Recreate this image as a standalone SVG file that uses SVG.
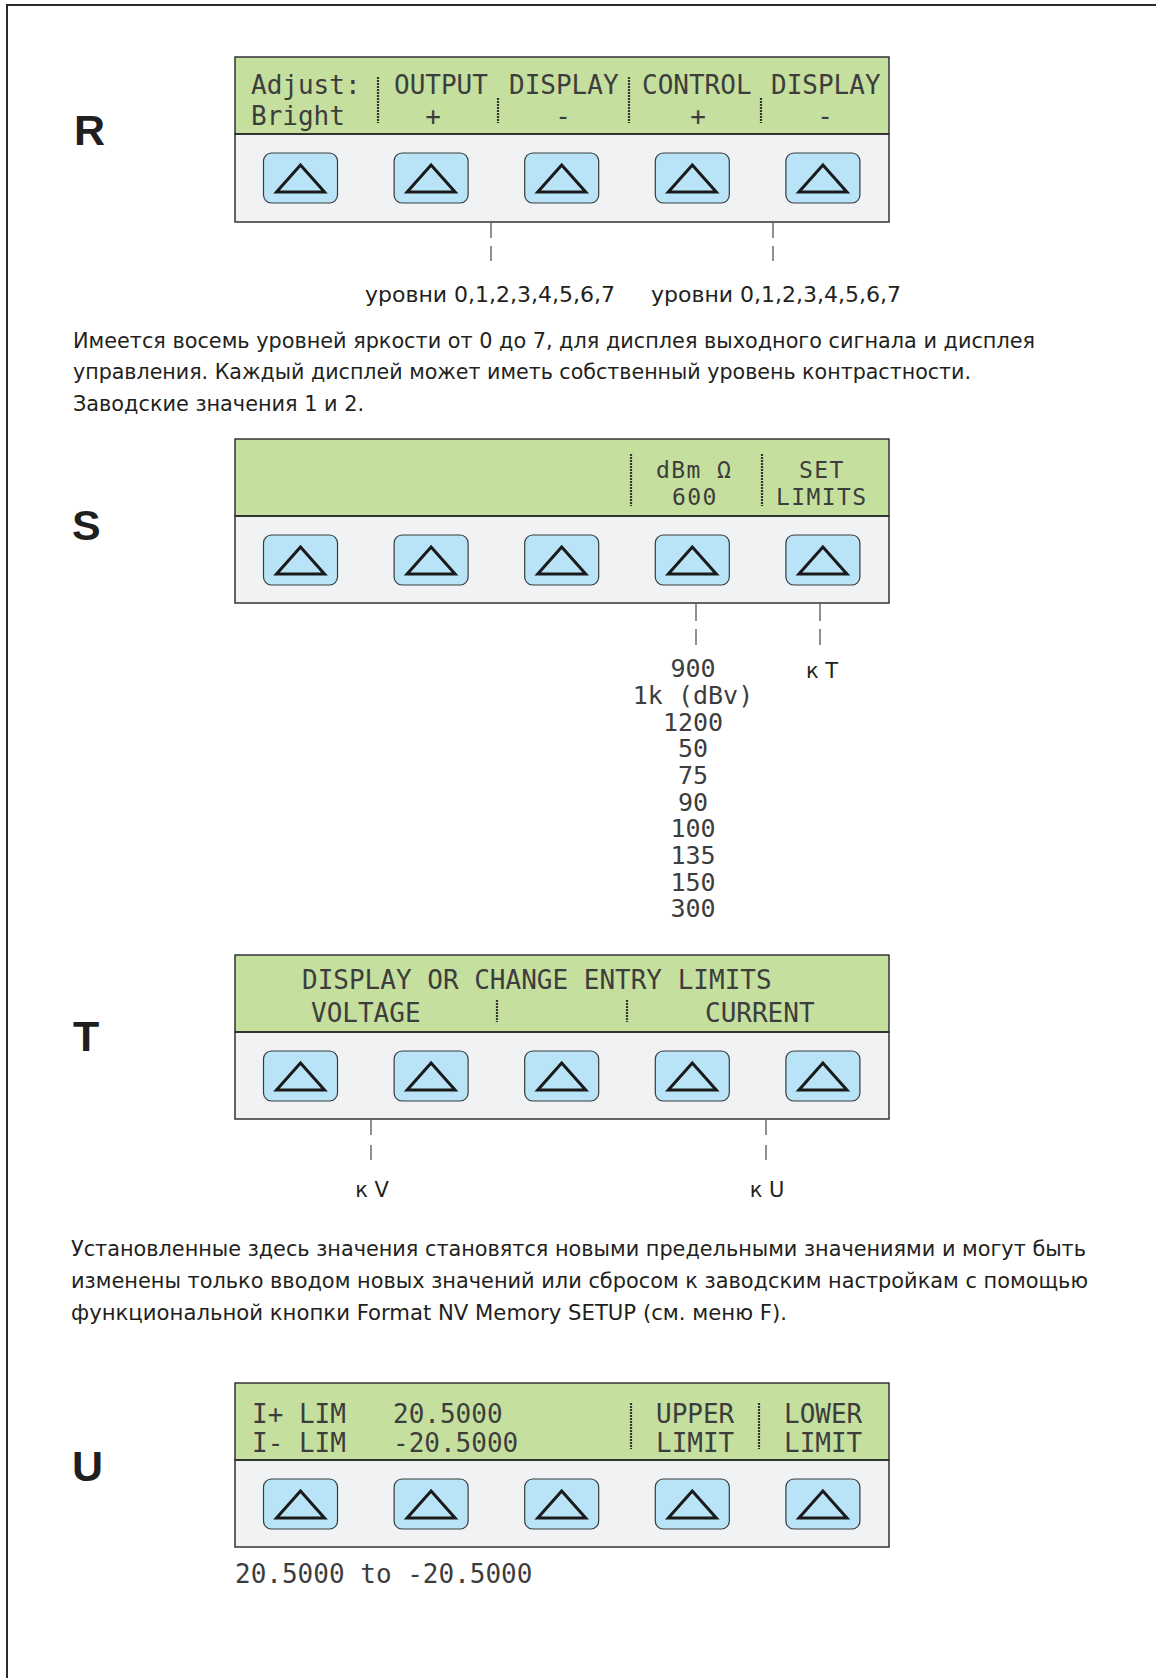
<svg xmlns="http://www.w3.org/2000/svg" width="1156" height="1678" viewBox="0 0 1156 1678">
<defs>
<style>
.frame{fill:none;stroke:#2b2b2b;stroke-width:2}
.lcd{fill:#c5df9e;stroke:#333;stroke-width:1.5}
.base{fill:#f1f2f3;stroke:#333;stroke-width:1.5}
.sep{stroke:#333;stroke-width:2}
.btn{fill:#b9e4f8;stroke:#3a3a3a;stroke-width:1.2}
.tri{fill:none;stroke:#1a1a1a;stroke-width:3;stroke-linejoin:miter}
.mono{font-family:"DejaVu Sans Mono","Liberation Mono",monospace;font-size:26px;fill:#3d3d3d}
.mono25{font-family:"DejaVu Sans Mono","Liberation Mono",monospace;font-size:25px;fill:#3d3d3d}
.monoS{font-family:"DejaVu Sans Mono","Liberation Mono",monospace;font-size:23px;letter-spacing:1.4px;fill:#3d3d3d}
.div{stroke:#333;stroke-width:2.2;stroke-dasharray:2 1}
.big{font-family:"Liberation Sans",Arial,sans-serif;font-weight:bold;font-size:43px;fill:#1f1f1f}
.para{font-family:"DejaVu Sans Condensed","DejaVu Sans",sans-serif;font-size:22px;fill:#231f20}
.lbl{font-family:"DejaVu Sans",sans-serif;font-size:22px;fill:#231f20}
.lbl2{font-family:"DejaVu Sans",sans-serif;font-size:21px;fill:#231f20}
.con{stroke:#555;stroke-width:1.3;fill:none}
</style>
<g id="keys">
<rect class="btn" x="0" y="0" width="74" height="50" rx="8"/>
<path class="tri" d="M37,12 L61,39 L13,39 Z"/>
</g>
<g id="keyrow">
<use href="#keys" x="0"/>
<use href="#keys" x="130.6"/>
<use href="#keys" x="261.2"/>
<use href="#keys" x="391.8"/>
<use href="#keys" x="522.4"/>
</g>
</defs>
<rect width="1156" height="1678" fill="#ffffff"/>
<path class="frame" d="M7,1678 L7,5 L1156,5"/>

<g id="label-R"><text class="big" x="74" y="145">R</text></g>
<g id="label-S"><text class="big" x="72" y="540">S</text></g>
<g id="label-T"><text class="big" x="73" y="1051">T</text></g>
<g id="label-U"><text class="big" x="72" y="1481">U</text></g>

<g id="panel-R">
<rect class="lcd" x="235" y="57" width="654" height="77"/>
<rect class="base" x="235" y="134" width="654" height="88"/>
<line class="sep" x1="235" y1="134" x2="889" y2="134"/>
<text class="mono" x="251" y="94">Adjust:</text>
<text class="mono" x="251" y="125">Bright</text>
<text class="mono" x="394" y="94">OUTPUT</text>
<text class="mono" x="509" y="94">DISPLAY</text>
<text class="mono" x="642" y="94">CONTROL</text>
<text class="mono" x="771" y="94">DISPLAY</text>
<text class="mono" x="433" y="125" text-anchor="middle">+</text>
<text class="mono" x="563" y="125" text-anchor="middle">-</text>
<text class="mono" x="698" y="125" text-anchor="middle">+</text>
<text class="mono" x="825" y="125" text-anchor="middle">-</text>
<line class="div" x1="378" y1="77" x2="378" y2="123"/>
<line class="div" x1="629" y1="77" x2="629" y2="123"/>
<line class="div" x1="498" y1="98" x2="498" y2="123"/>
<line class="div" x1="761" y1="98" x2="761" y2="123"/>
<use href="#keyrow" x="263.5" y="153"/>
</g>

<g id="panel-S">
<rect class="lcd" x="235" y="439" width="654" height="77"/>
<rect class="base" x="235" y="516" width="654" height="87"/>
<line class="sep" x1="235" y1="516" x2="889" y2="516"/>
<text class="monoS" x="656" y="478">dBm Ω</text>
<text class="monoS" x="672" y="505">600</text>
<text class="monoS" x="799" y="478">SET</text>
<text class="monoS" x="776" y="505">LIMITS</text>
<line class="div" x1="631" y1="454" x2="631" y2="506"/>
<line class="div" x1="762" y1="454" x2="762" y2="506"/>
<use href="#keyrow" x="263.5" y="535"/>
</g>

<g id="panel-T">
<rect class="lcd" x="235" y="955" width="654" height="77"/>
<rect class="base" x="235" y="1032" width="654" height="87"/>
<line class="sep" x1="235" y1="1032" x2="889" y2="1032"/>
<text class="mono" x="302" y="989">DISPLAY OR CHANGE ENTRY LIMITS</text>
<text class="mono" x="311" y="1022">VOLTAGE</text>
<text class="mono" x="705" y="1022">CURRENT</text>
<line class="div" x1="497" y1="1000" x2="497" y2="1022"/>
<line class="div" x1="627" y1="1000" x2="627" y2="1022"/>
<use href="#keyrow" x="263.5" y="1051"/>
</g>

<g id="panel-U">
<rect class="lcd" x="235" y="1383" width="654" height="77"/>
<rect class="base" x="235" y="1460" width="654" height="87"/>
<line class="sep" x1="235" y1="1460" x2="889" y2="1460"/>
<text class="mono" x="252" y="1423">I+ LIM</text>
<text class="mono" x="252" y="1452">I- LIM</text>
<text class="mono" x="393" y="1423">20.5000</text>
<text class="mono" x="393" y="1452">-20.5000</text>
<text class="mono" x="656" y="1423">UPPER</text>
<text class="mono" x="656" y="1452">LIMIT</text>
<text class="mono" x="784" y="1423">LOWER</text>
<text class="mono" x="784" y="1452">LIMIT</text>
<line class="div" x1="631" y1="1403" x2="631" y2="1449"/>
<line class="div" x1="759" y1="1403" x2="759" y2="1449"/>
<use href="#keyrow" x="263.5" y="1479"/>
</g>

<g id="connectors">
<line class="con" x1="491" y1="223" x2="491" y2="261" stroke-dasharray="15 8"/>
<line class="con" x1="773" y1="223" x2="773" y2="261" stroke-dasharray="15 8"/>
<line class="con" x1="696" y1="604" x2="696" y2="645" stroke-dasharray="17 8"/>
<line class="con" x1="820" y1="604" x2="820" y2="645" stroke-dasharray="17 8"/>
<line class="con" x1="371" y1="1120" x2="371" y2="1160" stroke-dasharray="15 10"/>
<line class="con" x1="766" y1="1120" x2="766" y2="1160" stroke-dasharray="15 10"/>
</g>

<g id="levels-output"><text class="lbl" x="490" y="302" text-anchor="middle">уровни 0,1,2,3,4,5,6,7</text></g>
<g id="levels-control"><text class="lbl" x="776" y="302" text-anchor="middle">уровни 0,1,2,3,4,5,6,7</text></g>

<g id="para-1">
<text class="para" x="73" y="348" textLength="962" lengthAdjust="spacingAndGlyphs">Имеется восемь уровней яркости от 0 до 7, для дисплея выходного сигнала и дисплея</text>
<text class="para" x="73" y="379" textLength="898" lengthAdjust="spacingAndGlyphs">управления. Каждый дисплей может иметь собственный уровень контрастности.</text>
<text class="para" x="73" y="411" textLength="291" lengthAdjust="spacingAndGlyphs">Заводские значения 1 и 2.</text>
</g>

<g id="impedance-list">
<text class="mono25" x="693" y="677" text-anchor="middle">900</text>
<text class="mono25" x="693" y="704" text-anchor="middle">1k (dBv)</text>
<text class="mono25" x="693" y="731" text-anchor="middle">1200</text>
<text class="mono25" x="693" y="757" text-anchor="middle">50</text>
<text class="mono25" x="693" y="784" text-anchor="middle">75</text>
<text class="mono25" x="693" y="811" text-anchor="middle">90</text>
<text class="mono25" x="693" y="837" text-anchor="middle">100</text>
<text class="mono25" x="693" y="864" text-anchor="middle">135</text>
<text class="mono25" x="693" y="891" text-anchor="middle">150</text>
<text class="mono25" x="693" y="917" text-anchor="middle">300</text>
</g>

<g id="to-T"><text class="lbl2" x="822" y="678" text-anchor="middle">к T</text></g>
<g id="to-V"><text class="lbl2" x="372" y="1197" text-anchor="middle">к V</text></g>
<g id="to-U"><text class="lbl2" x="767" y="1197" text-anchor="middle">к U</text></g>

<g id="para-2">
<text class="para" x="71" y="1256" textLength="1015" lengthAdjust="spacingAndGlyphs">Установленные здесь значения становятся новыми предельными значениями и могут быть</text>
<text class="para" x="71" y="1288" textLength="1017" lengthAdjust="spacingAndGlyphs">изменены только вводом новых значений или сбросом к заводским настройкам с помощью</text>
<text class="para" x="71" y="1320" textLength="716" lengthAdjust="spacingAndGlyphs">функциональной кнопки Format NV Memory SETUP (см. меню F).</text>
</g>

<g id="range-U"><text class="mono" x="235" y="1583">20.5000 to -20.5000</text></g>
</svg>
